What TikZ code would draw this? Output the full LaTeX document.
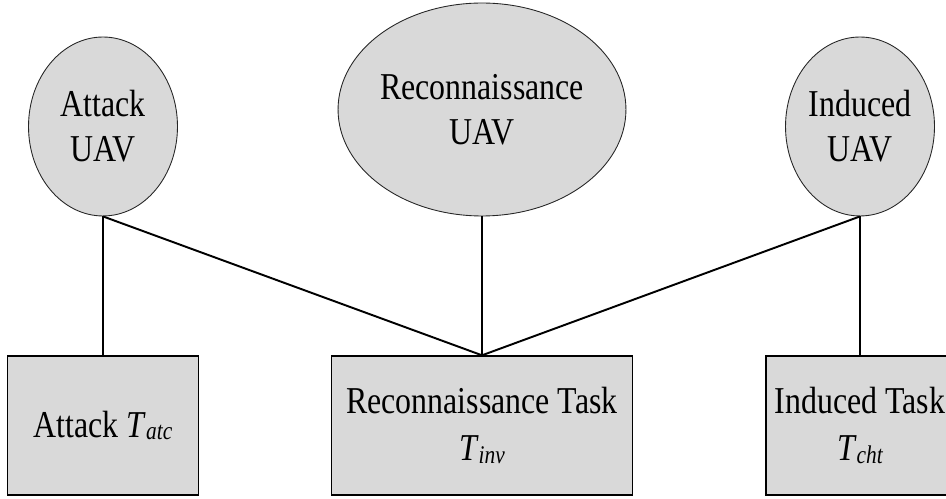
\documentclass[tikz,border=0pt]{standalone}
\usepackage{fontspec}
\setmainfont[FakeStretch=0.84]{Liberation Serif}
\usetikzlibrary{shapes.geometric}
\definecolor{boxgray}{RGB}{217,217,217}
\newcommand{\tsub}[1]{\textit{T}\raisebox{-0.15ex}{\fontsize{14.5}{14.5}\selectfont\itshape #1}}
\begin{document}
\begin{tikzpicture}[x=0.02cm, y=-0.02cm,
    uav/.style={ellipse, draw=black!85, line width=0.5pt, fill=boxgray, inner sep=0pt, align=center,
        font=\fontsize{21.6}{25.6}\selectfont},
    task/.style={rectangle, draw=black, line width=0.8pt, fill=boxgray, inner sep=0pt, align=center,
        minimum height=2.78cm, font=\fontsize{21.6}{26.6}\selectfont},
    link/.style={line width=1.1pt}]
    % Frame
    \useasboundingbox (0,0) rectangle (946,499);
    \clip (0,0) rectangle (946,499);

    % UAVs
    \node[uav, minimum width=2.98cm, minimum height=3.58cm] (atkuav) at (103,126.5) {Attack\\UAV};
    \node[uav, minimum width=5.28cm, minimum height=4.26cm] (recuav) at (482,109.5) {Reconnaissance\\UAV};
    \node[uav, minimum width=2.98cm, minimum height=3.58cm] (induav) at (860,126.5) {Induced\\UAV};

    % Tasks
    \node[task, minimum width=3.82cm] (atktask) at (103,425.5) {Attack \tsub{atc}};
    \node[task, minimum width=6.02cm] (rectask) at (482,425.5) {Reconnaissance Task\\\tsub{inv}};
    \node[task, minimum width=3.76cm] (indtask) at (860,425.5) {Induced Task\\\tsub{cht}};

    % Links
    \draw[link] (atkuav.south) -- (atktask.north);
    \draw[link] (atkuav.south) -- (rectask.north);
    \draw[link] (recuav.south) -- (rectask.north);
    \draw[link] (induav.south) -- (rectask.north);
    \draw[link] (induav.south) -- (indtask.north);
\end{tikzpicture}
\end{document}
